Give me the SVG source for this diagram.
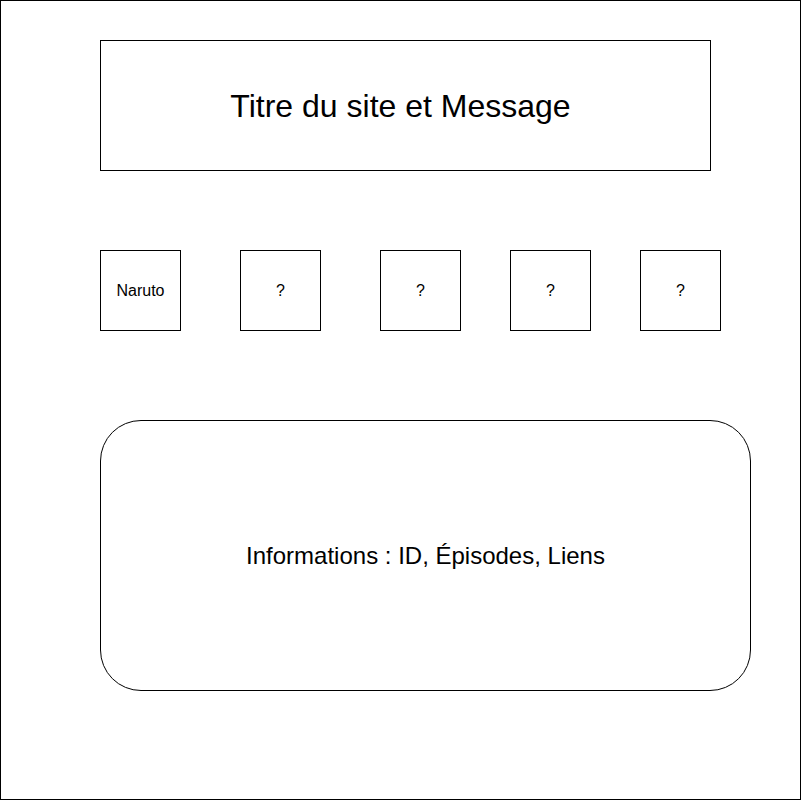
<svg xmlns="http://www.w3.org/2000/svg" width="801" height="801" viewBox="0 0 801 801">
<style>
.box{fill:#fff;stroke:#000;stroke-width:1}
text{font-family:"Liberation Sans",Arial,sans-serif;fill:#000;text-anchor:middle;dominant-baseline:central}
.s{font-size:16px}
</style>
<rect x="0" y="0" width="801" height="801" fill="#fff"/>
<g id="page"><rect class="box" x="0.5" y="0.5" width="800" height="799"/></g>
<g id="title"><rect class="box" x="100.5" y="40.5" width="610" height="130"/><text x="400.5" y="105.5" font-size="32">Titre du site et Message</text></g>
<g id="n1"><rect class="box" x="100.5" y="250.5" width="80" height="80"/><text class="s" x="140.5" y="290.5">Naruto</text></g>
<g id="n2"><rect class="box" x="240.5" y="250.5" width="80" height="80"/><text class="s" x="280.5" y="290.5">?</text></g>
<g id="n3"><rect class="box" x="380.5" y="250.5" width="80" height="80"/><text class="s" x="420.5" y="290.5">?</text></g>
<g id="n4"><rect class="box" x="510.5" y="250.5" width="80" height="80"/><text class="s" x="550.5" y="290.5">?</text></g>
<g id="n5"><rect class="box" x="640.5" y="250.5" width="80" height="80"/><text class="s" x="680.5" y="290.5">?</text></g>
<g id="info"><rect class="box" x="100.5" y="420.5" width="650" height="270" rx="40.5" ry="40.5"/><text x="425.5" y="555.5" font-size="24">Informations : ID, Épisodes, Liens</text></g>
<g id="connectors"></g>
</svg>
